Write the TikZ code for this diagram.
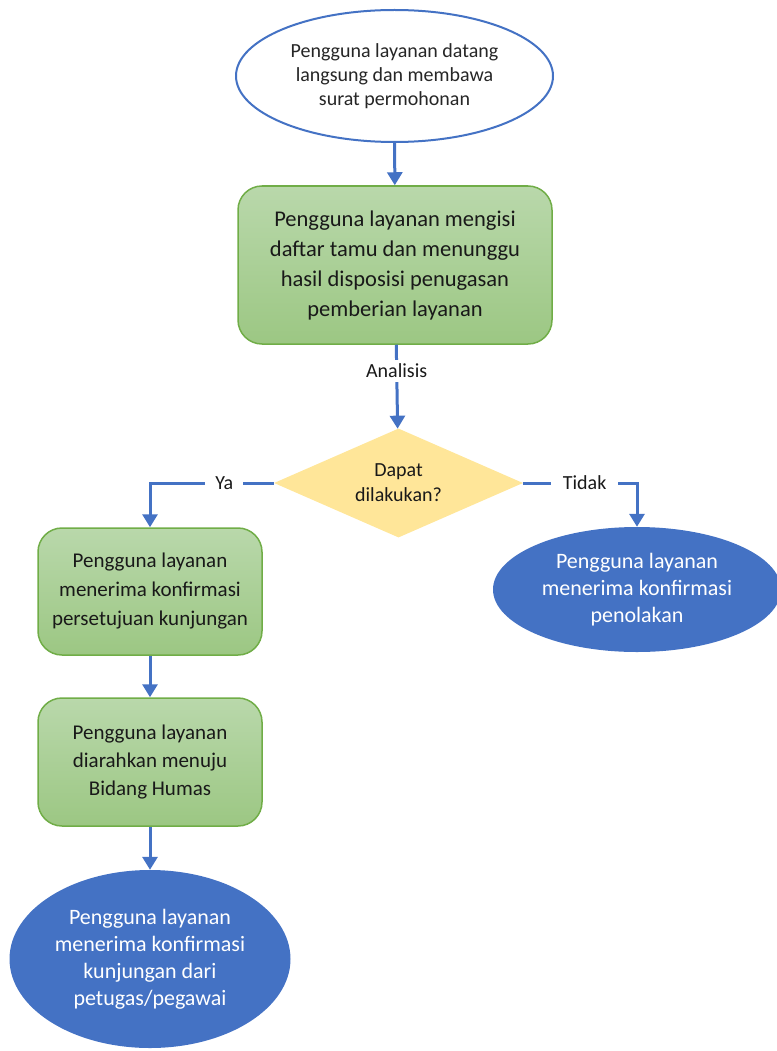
\documentclass[tikz,border=0pt]{standalone}
\usepackage{fontspec}
\setmainfont{Carlito}
\usetikzlibrary{shapes.geometric,arrows.meta}

\definecolor{flowblue}{HTML}{4472C4}
\definecolor{boxline}{HTML}{70AD47}
\definecolor{boxtop}{HTML}{B9D8AB}
\definecolor{boxbottom}{HTML}{9CC783}
\definecolor{decfill}{HTML}{FFE699}

\tikzset{
  startnode/.style={ellipse,draw=flowblue,line width=2pt,fill=white,inner sep=0pt,
    align=center,text=black!85,font=\fontsize{20}{24}\selectfont},
  procbox/.style={rectangle,rounded corners=24pt,draw=boxline,line width=1.5pt,
    top color=boxtop,bottom color=boxbottom,inner sep=0pt,align=center,text=black!90},
  decnode/.style={diamond,shape aspect=2.3,fill=decfill,inner sep=0pt,align=center,text=black!90,
    font=\fontsize{20}{25}\selectfont},
  endnode/.style={ellipse,fill=flowblue,text=white,inner sep=0pt,align=center,
    font=\fontsize{22}{27}\selectfont},
  flow/.style={draw=flowblue,line width=3pt,-{Triangle[width=15pt,length=13pt]}},
  flowlabel/.style={fill=white,inner sep=4pt,text=black!90,font=\fontsize{20}{24}\selectfont}
}

\begin{document}
\begin{tikzpicture}[x=1pt,y=-1pt]
\useasboundingbox (0,0) rectangle (776,1051);
% nodes
\node[startnode,minimum width=317,minimum height=132] (start) at (394.5,76)
  {Pengguna layanan datang\\langsung dan membawa\\surat permohonan};
\node[procbox,minimum width=314,minimum height=158,font=\fontsize{22.5}{30}\selectfont] (isi) at (395,265)
  {Pengguna layanan mengisi\\daftar tamu dan menunggu\\hasil disposisi penugasan\\pemberian layanan};
\node[decnode,minimum width=249,minimum height=109] (dapat) at (398.5,483)
  {Dapat\\dilakukan?};
\node[procbox,minimum width=224,minimum height=127,font=\fontsize{21}{29}\selectfont] (setuju) at (150,591.5)
  {Pengguna layanan\\menerima konfirmasi\\persetujuan kunjungan};
\node[procbox,minimum width=224,minimum height=128,font=\fontsize{21}{28}\selectfont] (humas) at (150,762)
  {Pengguna layanan\\diarahkan menuju\\Bidang Humas};
\node[endnode,minimum width=281,minimum height=178] (kunjungan) at (150,959)
  {Pengguna layanan\\menerima konfirmasi\\kunjungan dari\\petugas/pegawai};
\node[endnode,minimum width=288,minimum height=125] (tolak) at (637,589.5)
  {Pengguna layanan\\menerima konfirmasi\\penolakan};
% connectors
\draw[flow] (start) -- (isi);
\draw[flow] (isi) -- node[flowlabel,pos=0.31] {Analisis} (dapat);
\draw[flow] (dapat.west) -| node[flowlabel,pos=0.2,inner xsep=10pt] {Ya} (setuju.north);
\draw[flow] (dapat.east) -| node[flowlabel,pos=0.27,inner xsep=12pt] {Tidak} (tolak.north);
\draw[flow] (setuju) -- (humas);
\draw[flow] (humas) -- (kunjungan);
\end{tikzpicture}
\end{document}
